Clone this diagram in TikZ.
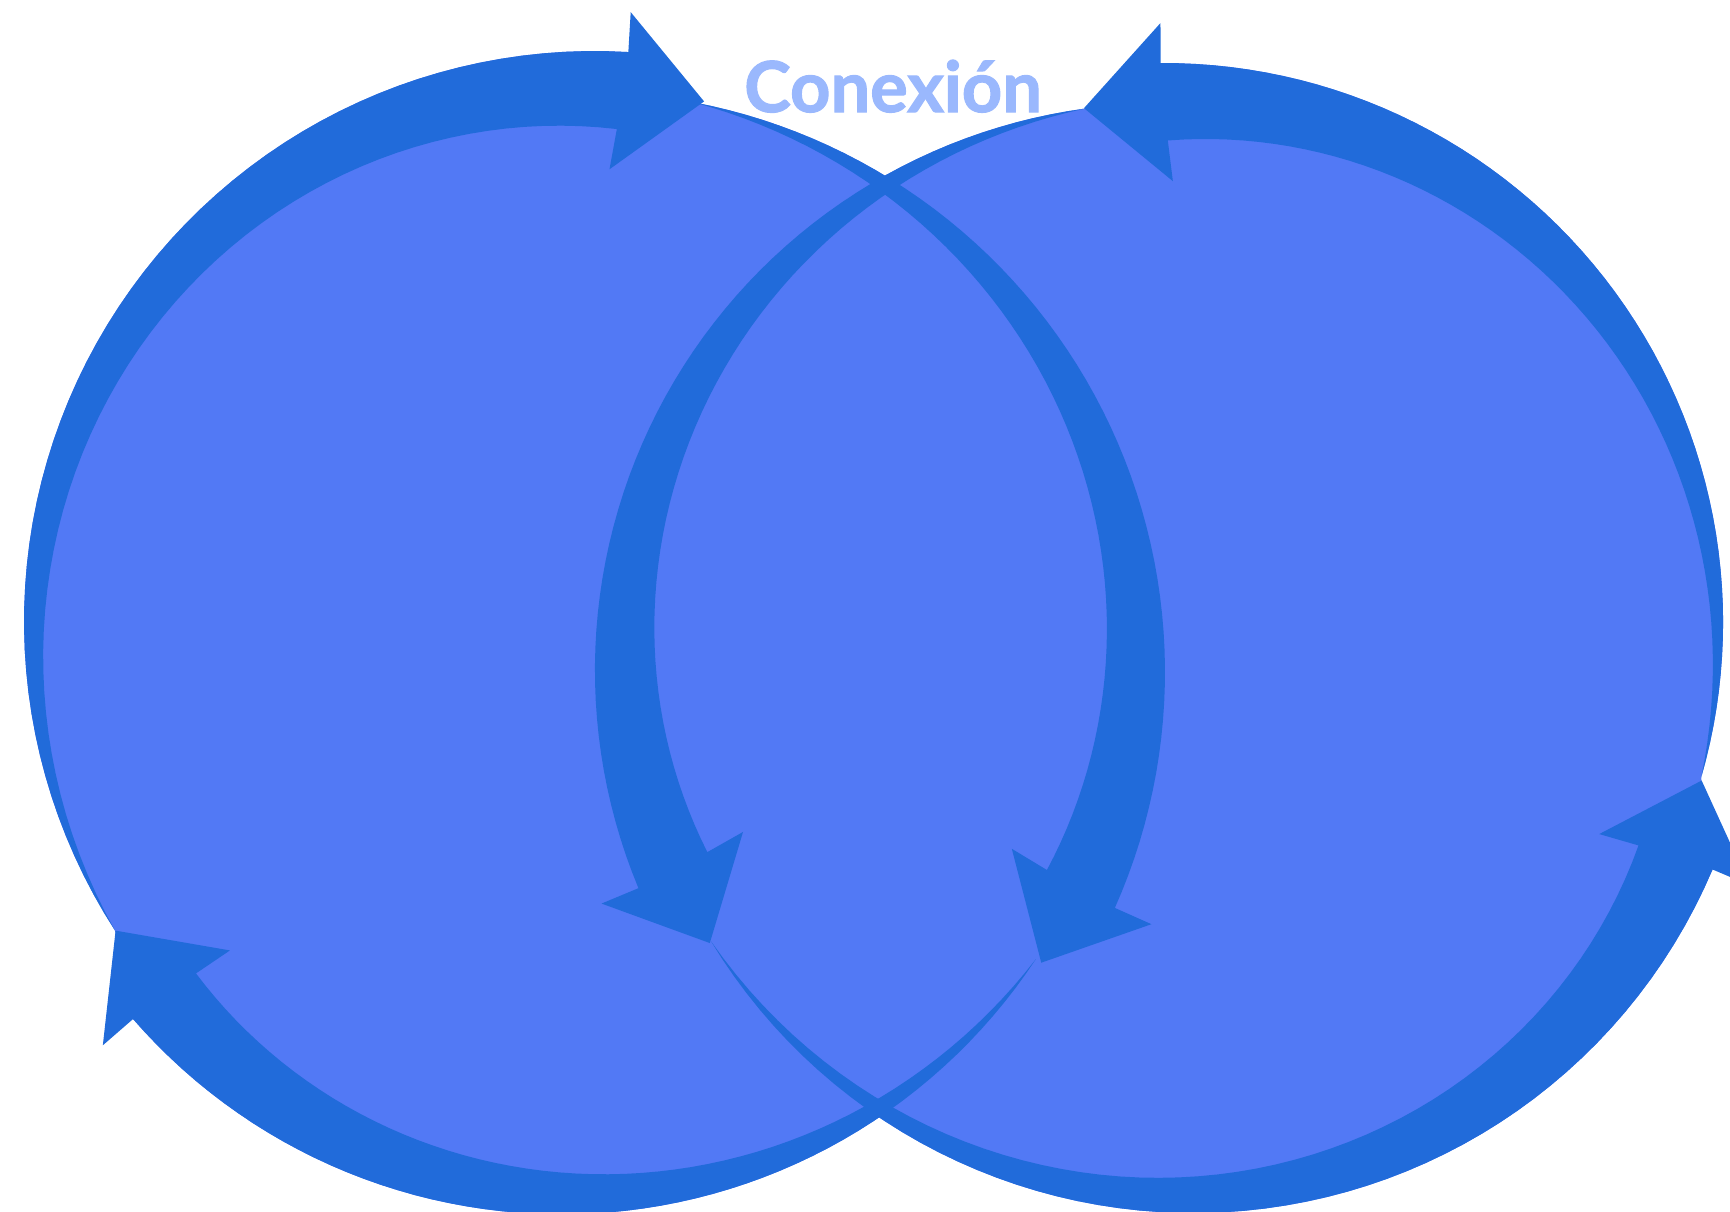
\documentclass[tikz,border=0pt]{standalone}
\usepackage{fontspec}
\usepackage{tikz}
\usepackage{xcolor}

\newfontfamily\titlefont{Lato}[BoldFeatures={FakeBold=1.6}]
\definecolor{ringblue}{HTML}{216BDA}
\definecolor{diskblue}{HTML}{5279F5}
\definecolor{labelblue}{HTML}{9AB8FD}

% outer edge of one ring arrow: centre x, centre y, radius, from angle, to angle
\newcommand{\outerarc}[5]{plot[domain=#4:#5, samples=60] ({#1+(#3)*cos(\x)}, {#2+(#3)*sin(\x)})}
\newcommand{\joinarc}[5]{-- plot[domain=#4:#5, samples=60] ({#1+(#3)*cos(\x)}, {#2+(#3)*sin(\x)})}

% tapered ring arrow: centre x, centre y, outer radius, tail angle, head angle
\newcommand{\ringarrow}[5]{%
  \pgfmathsetmacro{\dirsign}{sign(#5-(#4))}%
  \pgfmathsetmacro{\tipang}{#5+8.5*\dirsign}%
  \pgfmathsetmacro{\barbang}{#5-1.5*\dirsign}%
  \pgfmathsetmacro{\innang}{#5-0.8*\dirsign}%
  \fill[band] plot[domain=#4:#5, samples=60] ({#1+(#3)*cos(\x)}, {#2+(#3)*sin(\x)})
    -- ({#1+(#3+40)*cos(#5)}, {#2+(#3+40)*sin(#5)})
    -- ({#1+(#3-39)*cos(\tipang)}, {#2+(#3-39)*sin(\tipang)})
    -- ({#1+(#3-118)*cos(\barbang)}, {#2+(#3-118)*sin(\barbang)})
    -- plot[domain=\innang:#4, samples=60]
       ({#1+(#3-78*(\x-(#4))/(#5-(#4)))*cos(\x)}, {#2+(#3-78*(\x-(#4))/(#5-(#4)))*sin(\x)})
    -- cycle;}

\begin{document}
\begin{tikzpicture}[
  x=0.01cm, y=-0.01cm,
  band/.style={fill=ringblue},
  disk/.style={fill=diskblue}
]
  \useasboundingbox (0,0) rectangle (1730,1211);
  \clip (0,0) rectangle (1730,1211);

  %--- Fills ---
  \fill[disk] \outerarc{594.5}{621.5}{570.5}{147.2}{273.4}
    \joinarc{585}{672}{580}{-79.2}{24}
    \joinarc{561.7}{646.4}{568}{33.4}{139} -- cycle;
  \fill[disk] \outerarc{1163.6}{622.5}{559.5}{16.1}{-90.3}
    \joinarc{1161.9}{670.3}{567}{262.2}{157.4}
    \joinarc{1193.4}{649.1}{564}{148.8}{23} -- cycle;

  %--- Left ring ---
  \ringarrow{594.5}{621.5}{570.5}{147.2}{273.4}
  \ringarrow{585}{672}{580}{-79.2}{24}
  \ringarrow{561.7}{646.4}{568}{33.4}{139}

  %--- Right ring ---
  \ringarrow{1163.6}{622.5}{559.5}{16.1}{-90.3}
  \ringarrow{1161.9}{670.3}{567}{262.2}{157.4}
  \ringarrow{1193.4}{649.1}{564}{148.8}{23}

  % Title
  \node[font=\titlefont\bfseries\fontsize{20}{24}\selectfont, text=labelblue,
        anchor=base, inner sep=0pt] (title) at (893,112) {Conexión};
\end{tikzpicture}
\end{document}
